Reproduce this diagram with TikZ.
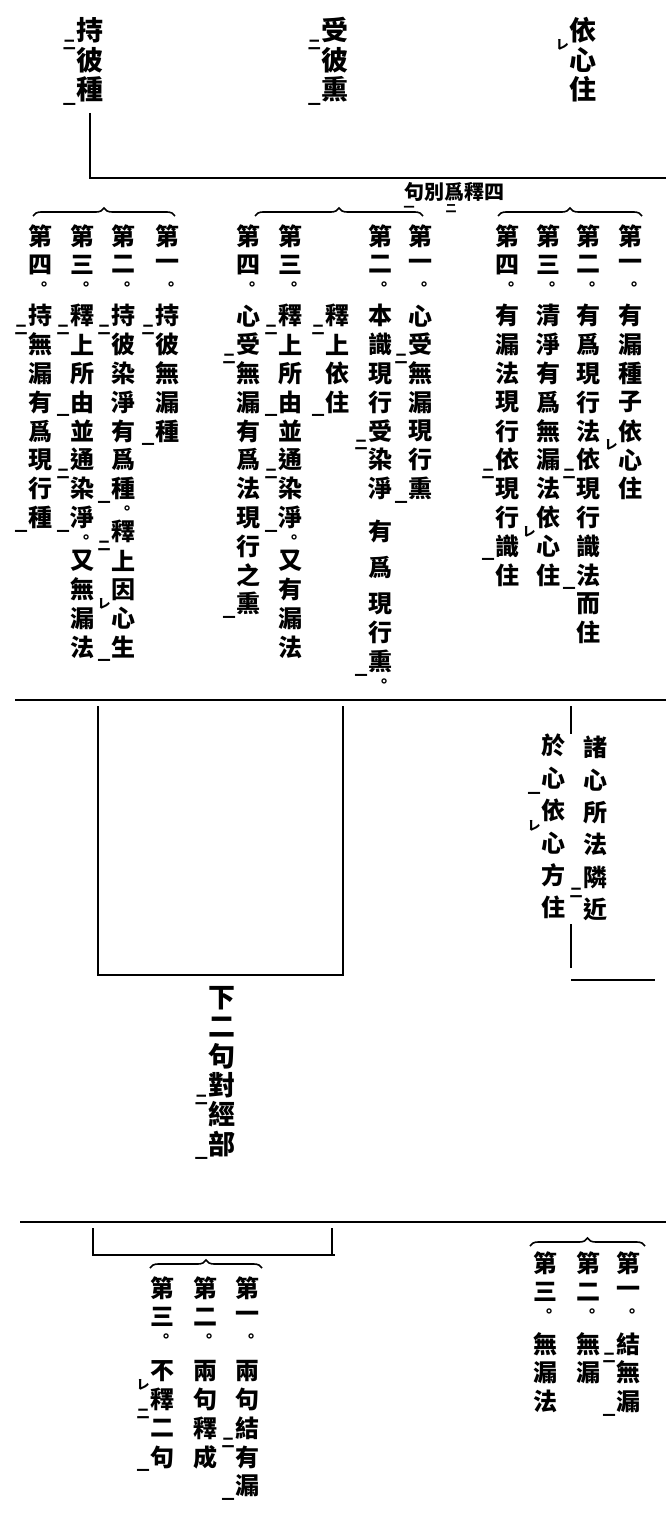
\documentclass[tikz,border=0pt]{standalone}
\usepackage{fontspec}
\newfontfamily\cjk{Noto Sans CJK TC}
\usetikzlibrary{decorations.pathreplacing}

% vertical column of characters, one per slot
\newdimen\vcw
\newdimen\vcp
\def\vcEnd{vcEnd}
\newcommand\vc[2][1.2]{\vbox{\offinterlineskip\vcw=1em\vcp=#1em\relax\vcA#2\vcEnd}}
\def\vcA#1{\ifx#1\vcEnd\else\ifcat\noexpand#1\relax#1\else\vcchar{#1}\fi\expandafter\vcA\fi}
\def\vcchar#1{\vbox to\vcp{\vss\hbox to\vcw{\hss#1\hss}\vss}}
% return marks and punctuation
\def\mkbox#1{\hbox to\vcw{\hskip-.02em\llap{\smash{\lower.18em\hbox{\fontsize{6.5}{6.5}\selectfont#1}}}\hfil}}
\def\mkre{\mkbox{レ}}
\def\mki{\mkbox{一}}
\def\mkii{\mkbox{二}}
\def\mkmaru{\vbox to.5\vcp{\vss\hbox to\vcw{\hss\hskip.35em\hbox{\fontsize{8}{8}\selectfont 。}\hss}\vss}}
\def\mksp{\vskip.6em}
\def\mkhs{\vskip.3em}

\tikzset{
  col/.style={anchor=north, inner sep=0pt, font=\cjk\bfseries\fontsize{12}{14}\selectfont},
  title/.style={col, font=\cjk\bfseries\fontsize{13.5}{15}\selectfont},
  rubric/.style={inner sep=0pt, font=\cjk\bfseries\fontsize{10}{12}\selectfont},
  kmark/.style={inner sep=0pt, font=\cjk\bfseries\fontsize{5.5}{6}\selectfont},
  rule/.style={line width=1.1pt},
  boxline/.style={line width=0.9pt},
  grp/.style={decorate, decoration={brace, amplitude=4pt}, line width=0.8pt}
}

\begin{document}
\begin{tikzpicture}[x=0.5pt, y=-0.5pt]
  \useasboundingbox (0,0) rectangle (666,1540);

  % Three headings
  \node[title] (yi) at (583,15) {\vc[1.1]{依\mkre 心住}};
  \node[title] (shou) at (335,15) {\vc[1.1]{受\mkii 彼熏\mki }};
  \node[title] (chi) at (90,15) {\vc[1.1]{持\mkii 彼種\mki }};

  % Frame under the headings
  \coordinate (TopR) at (666,178);
  \draw[rule] ([yshift=-4pt]chi.south) -- (chi.south |- TopR) -- (TopR);

  % Rubric (printed right to left)
  \node[rubric] (rub) at (454,192) {句別爲釋四};
  \node[kmark] (rubA) at (409,209) {一};
  \node[kmark] (rubB) at (451,209) {二};

  % Braces over the three groups
  \coordinate (BrLa) at (33,216);
  \coordinate (BrLb) at (175,216);
  \coordinate (BrMa) at (255,216);
  \coordinate (BrMb) at (423,216);
  \coordinate (BrRa) at (498,216);
  \coordinate (BrRb) at (642,216);
  \draw[grp] (BrLa) -- (BrLb);
  \draw[grp] (BrMa) -- (BrMb);
  \draw[grp] (BrRa) -- (BrRb);

  % Right group: depending on the mind
  \node[col] (r1h) at (630,221) {\vc{第一\mkmaru }};
  \node[col] (r1) at (630,301) {\vc{有漏種子依\mkre 心住}};
  \node[col] (r2h) at (588,221) {\vc{第二\mkmaru }};
  \node[col] (r2) at (588,301) {\vc{有爲現行法依\mkii 現行識法\mki 而住}};
  \node[col] (r3h) at (548,221) {\vc{第三\mkmaru }};
  \node[col] (r3) at (548,301) {\vc{清淨有爲無漏法依\mkre 心住}};
  \node[col] (r4h) at (507,221) {\vc{第四\mkmaru }};
  \node[col] (r4) at (507,301) {\vc{有漏法現行依\mkii 現行識\mki 住}};

  % Middle group: receiving the perfuming
  \node[col] (m1h) at (420,221) {\vc{第一\mkmaru }};
  \node[col] (m1) at (420,301) {\vc{心受\mkii 無漏現行熏\mki }};
  \node[col] (m2h) at (380,221) {\vc{第二\mkmaru }};
  \node[col] (m2) at (380,301) {\vc{本識現行受\mkii 染淨\mksp 有\mkhs 爲\mkhs 現行熏\mki \mkmaru }};
  \node[col] (m2b) at (337,301) {\vc{釋\mkii 上依住\mki }};
  \node[col] (m3h) at (290,221) {\vc{第三\mkmaru }};
  \node[col] (m3) at (290,301) {\vc{釋\mkii 上所由\mki 並通\mkii 染淨\mki \mkmaru 又有漏法}};
  \node[col] (m4h) at (248,221) {\vc{第四\mkmaru }};
  \node[col] (m4) at (248,301) {\vc{心受\mkii 無漏有爲法現行之熏\mki }};

  % Left group: holding the seeds
  \node[col] (l1h) at (167,221) {\vc{第一\mkmaru }};
  \node[col] (l1) at (167,301) {\vc{持\mkii 彼無漏種\mki }};
  \node[col] (l2h) at (123,221) {\vc{第二\mkmaru }};
  \node[col] (l2) at (123,301) {\vc{持\mkii 彼染淨有爲種\mki \mkmaru 釋\mkii 上因\mkre 心生\mki }};
  \node[col] (l3h) at (82,221) {\vc{第三\mkmaru }};
  \node[col] (l3) at (82,301) {\vc{釋\mkii 上所由\mki 並通\mkii 染淨\mki \mkmaru 又無漏法}};
  \node[col] (l4h) at (40,221) {\vc{第四\mkmaru }};
  \node[col] (l4) at (40,301) {\vc{持\mkii 無漏有爲現行種\mki }};

  % Second rule
  \coordinate (MidL) at (15,700);
  \coordinate (MidR) at (666,700);
  \draw[rule] (MidL) -- (MidR);

  % Open box leading down to the note
  \coordinate (BoxTL) at (98,706);
  \coordinate (BoxBL) at (98,975);
  \coordinate (BoxBR) at (343,975);
  \coordinate (BoxTR) at (343,706);
  \draw[boxline] (BoxTL) -- (BoxBL) -- (BoxBR) -- (BoxTR);
  \node[title] (kaini) at (222,983) {\vc[1.08]{下二句對\mkii 經部\mki }};

  % Right branch with the two columns
  \coordinate (BrTop) at (571,706);
  \coordinate (BrUp) at (571,734);
  \coordinate (BrDn) at (571,924);
  \coordinate (BrLow) at (571,968);
  \coordinate (BrFoot) at (571,980);
  \coordinate (BrEnd) at (655,980);
  \draw[boxline] (BrTop) -- (BrUp);
  \draw[boxline] (BrDn) -- (BrLow);
  \draw[boxline] (BrFoot) -- (BrEnd);
  \node[col] (shoshin) at (595,731) {\vc[1.35]{諸心所法隣\mkii 近}};
  \node[col] (oshin) at (553,729) {\vc[1.35]{於心\mki 依\mkre 心方住}};

  % Third rule
  \coordinate (LowL) at (20,1222);
  \coordinate (LowR) at (666,1222);
  \draw[rule] (LowL) -- (LowR);

  % Small bracket
  \coordinate (BkL) at (93,1228);
  \coordinate (BkLb) at (93,1255);
  \coordinate (BkRb) at (335,1255);
  \coordinate (BkR) at (332,1228);
  \draw[boxline] (BkL) -- (BkLb) -- (BkRb);
  \draw[boxline] (BkR) -- (BkR |- BkRb);

  % Lower braces
  \coordinate (BrBLa) at (150,1268);
  \coordinate (BrBLb) at (262,1268);
  \coordinate (BrBRa) at (530,1246);
  \coordinate (BrBRb) at (645,1246);
  \draw[grp] (BrBLa) -- (BrBLb);
  \draw[grp] (BrBRa) -- (BrBRb);

  % Lower left group
  \node[col] (bl1h) at (247,1273) {\vc{第一\mkmaru }};
  \node[col] (bl1) at (247,1356) {\vc{兩句結\mkii 有漏\mki }};
  \node[col] (bl2h) at (205,1273) {\vc{第二\mkmaru }};
  \node[col] (bl2) at (205,1356) {\vc{兩句釋成}};
  \node[col] (bl3h) at (162,1273) {\vc{第三\mkmaru }};
  \node[col] (bl3) at (162,1356) {\vc{不\mkre 釋\mkii 二句\mki }};

  % Lower right group
  \node[col] (br1h) at (628,1248) {\vc{第一\mkmaru }};
  \node[col] (br1) at (628,1329) {\vc{結\mkii 無漏\mki }};
  \node[col] (br2h) at (588,1248) {\vc{第二\mkmaru }};
  \node[col] (br2) at (588,1329) {\vc{無漏}};
  \node[col] (br3h) at (545,1248) {\vc{第三\mkmaru }};
  \node[col] (br3) at (545,1329) {\vc{無漏法}};

\end{tikzpicture}
\end{document}
